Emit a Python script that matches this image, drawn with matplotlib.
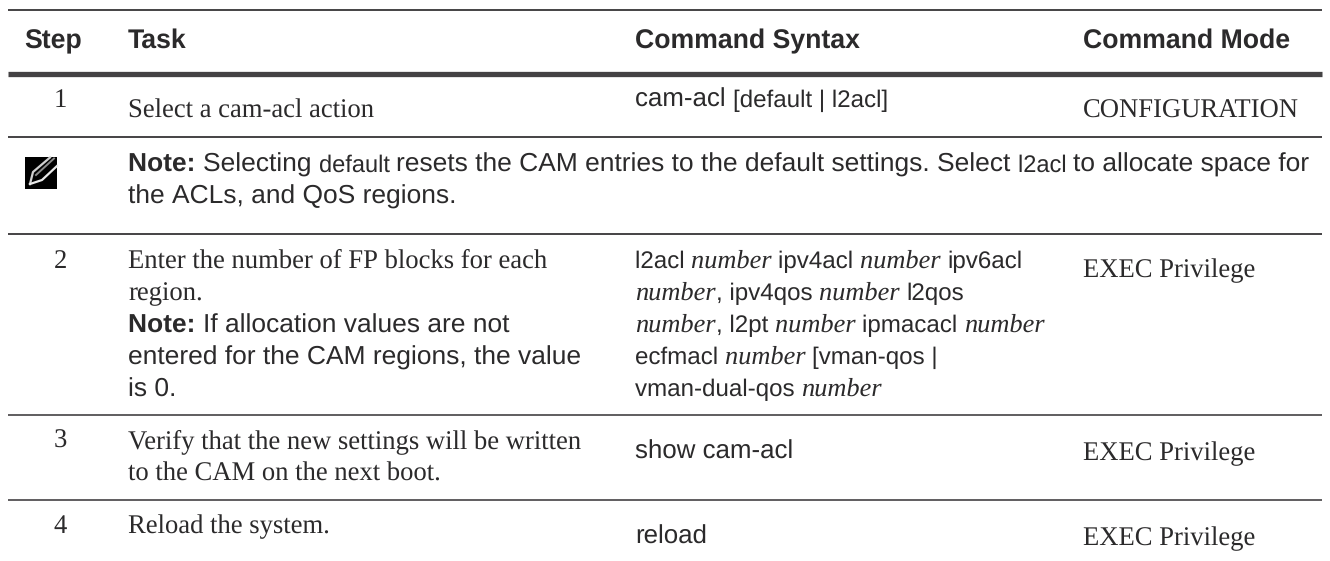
import matplotlib
matplotlib.use("Agg")
import matplotlib.pyplot as plt
from matplotlib.patches import Rectangle

plt.rcParams["text.hinting"] = "no_hinting"

SANS = "Liberation Sans"
SERIF = "Liberation Serif"

# s = sans, c = command sans, b = bold sans, t = small sans in the note,
# u = small sans in the syntax column, r = serif, i = italic serif
headers = ["Step", "Task", "Command Syntax", "Command Mode"]
step_labels = ["1", "2", "3", "4"]

task_lines = [
    [[("r", "Select a cam-acl action")]],
    [[("r", "Enter the number of FP blocks for each")],
     [("r", "region.")],
     [("b", "Note: "), ("s", "If allocation values are not")],
     [("s", "entered for the CAM regions, the value")],
     [("s", "is 0.")]],
    [[("r", "Verify that the new settings will be written")],
     [("r", "to the CAM on the next boot.")]],
    [[("r", "Reload the system.")]],
]
syntax_lines = [
    [[("c", "cam-acl "), ("u", "[default | l2acl]")]],
    [[("u", "l2acl "), ("i", "number "), ("u", "ipv4acl "), ("i", "number "), ("u", "ipv6acl")],
     [("i", "number"), ("u", ", ipv4qos "), ("i", "number "), ("u", "l2qos")],
     [("i", "number"), ("u", ", l2pt "), ("i", "number "), ("u", "ipmacacl "), ("i", "number")],
     [("u", "ecfmacl "), ("i", "number "), ("u", "[vman-qos |")],
     [("u", "vman-dual-qos "), ("i", "number")]],
    [[("c", "show cam-acl")]],
    [[("c", "reload")]],
]
mode_labels = ["CONFIGURATION", "EXEC Privilege", "EXEC Privilege", "EXEC Privilege"]
note_lines = [
    [("b", "Note: "), ("s", "Selecting "), ("t", "default "),
     ("s", "resets the CAM entries to the default settings. Select "),
     ("t", "l2acl "), ("s", "to allocate space for")],
    [("s", "the ACLs, and QoS regions.")],
]

styles = {
    "s": dict(family=SANS, size=19.0),
    "c": dict(family=SANS, size=18.6),
    "b": dict(family=SANS, size=19.0, weight="bold"),
    "t": dict(family=SANS, size=17.0),
    "u": dict(family=SANS, size=17.4),
    "r": dict(family=SERIF, size=19.2),
    "i": dict(family=SERIF, size=19.0, style="italic"),
}
INK = "#2b2a2b"

fig = plt.figure(figsize=(13.3, 5.61), dpi=100)
ax = fig.add_axes([0, 0, 1, 1])
ax.set_xlim(0, 1330)
ax.set_ylim(561, 0)
ax.axis("off")


def draw_runs(x, y, runs):
    # chain the pieces of one line by their measured width
    renderer = fig.canvas.get_renderer()
    for kind, txt in runs:
        t = ax.text(x, y, txt.replace(" ", "\u00a0"), color=INK, va="baseline",
                    ha="left", **styles[kind])
        x = t.get_window_extent(renderer).x1


def draw_block(x, y, lines, step):
    for n, runs in enumerate(lines):
        draw_runs(x, y + n * step, runs)


# rules
for y, lw in [(10, 1.4), (74, 3.8), (137, 1.4), (234, 1.4), (415, 1.2), (500, 1.2)]:
    ax.plot([8, 1322], [y, y], color="#444244", lw=lw, solid_capstyle="butt")

# header row
for x, label in zip([24.5, 128, 635, 1083], headers):
    ax.text(x, 48, label, color=INK, va="baseline", family=SANS, size=19.2, weight="bold")

step_y = [107, 268, 448, 533]
task_y = [118, 268, 448, 533]
syntax_y = [107, 268, 459, 544]
mode_y = [118, 277, 460, 545]

for i in range(4):
    ax.text(60, step_y[i], step_labels[i], color=INK, ha="center", va="baseline",
            family=SERIF, size=19.2)
    draw_block(128, task_y[i], task_lines[i], 32.3)
    draw_block(635, syntax_y[i], syntax_lines[i], 32)
    ax.text(1083, mode_y[i], mode_labels[i], color=INK, va="baseline", family=SERIF, size=19.2)

# note row
draw_block(128, 172, note_lines, 32)

# pencil icon
ax.add_patch(Rectangle((25, 157), 32, 32, color="black", lw=0))
ax.plot([30, 33, 50], [184, 172, 157.5], color="#d0d0d0", lw=1.6)
ax.plot([30, 42, 57], [184, 180, 166], color="#e8e8e8", lw=1.6)
ax.plot([36, 54], [175, 158.5], color="#8a8a8a", lw=1.4)

fig.savefig("out.png", dpi=100)
